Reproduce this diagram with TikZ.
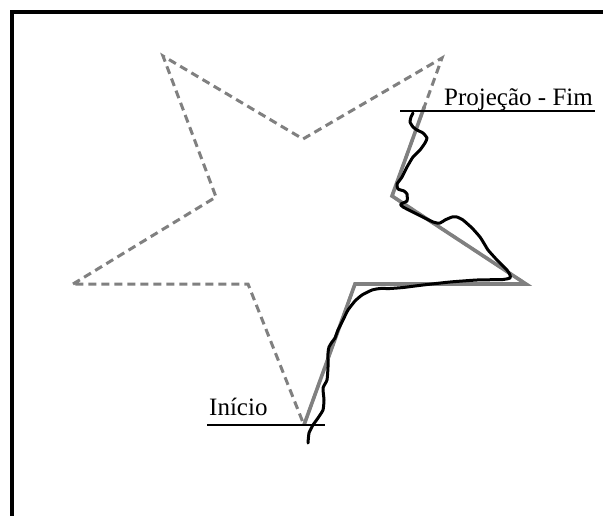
\documentclass[tikz,border=0pt]{standalone}
\usepackage{fontspec}
\setmainfont{Liberation Serif}
\usetikzlibrary{calc}

\begin{document}
\begin{tikzpicture}[x=1pt,y=-1pt]
% Stili
\tikzstyle{estrela} = [
    draw=gray,
    line width=3pt,
    dash pattern=on 8pt off 5pt
]

\tikzstyle{projecao} = [
    draw=gray,
    line width=3.6pt,
    line join=miter
]

\tikzstyle{trajeto} = [
    draw=black,
    line width=3pt,
    line join=round,
    line cap=round
]

\tikzstyle{rotulo} = [
    anchor=base west,
    inner sep=0pt,
    font=\fontsize{25}{30}\selectfont
]

\tikzstyle{sublinha} = [
    draw=black,
    line width=1.4pt
]

\useasboundingbox (0,0) rectangle (603,515);
\fill[white] (0,0) rectangle (603,515);

% Moldura
\draw[line width=4pt] (11.5,530) -- (11.5,11.5) -- (620,11.5);

% Vertici della stella
\coordinate (p1) at (163,56);
\coordinate (v1) at (303,139);
\coordinate (p2) at (442,58);
\coordinate (v2) at (392,196);
\coordinate (p3) at (526,284);
\coordinate (v3) at (355,284);
\coordinate (p4) at (304,425);
\coordinate (v4) at (248,284);
\coordinate (p5) at (73,284);
\coordinate (v5) at (216,197);
\coordinate (fimproj) at ($(v2)!0.65!(p2)$);

% Stella tratteggiata
\draw[estrela] (p5) -- (v5) -- (p1) -- (v1) -- (p2) -- (v2) -- (p3)
    -- (v3) -- (p4) -- (v4) -- cycle;

% Proiezione
\draw[projecao] (p4) -- (v3) -- (p3) -- (v2) -- (fimproj);

% Percorso
\draw[trajeto] plot[smooth, tension=0.3] coordinates {
    (308,443) (309,433) (313,425) (318,418) (323,410) (324,400)
    (323,388) (327,380) (328,367) (328,353) (329,347) (332,342)
    (335,338) (338,330) (343,320) (348,310) (355,301) (362,295)
    (372,290) (380,288.5) (390,288.5) (403,287.5) (423,285)
    (450,282) (477,280) (503,279.5) (510,278) (510,275) (507,270)
    (497,260) (488,250) (485,245) (480,237) (472,228) (463,220)
    (457,217) (452,217) (445,220) (440,223) (433,222) (403,207)
    (401,204) (407,201) (407,194) (404,191) (398,189) (397,184)
    (402,177) (407,167) (413,157) (420,150) (425,143) (427,138)
    (423,133) (417,130) (413,127) (410,122) (411,117) (413,113)
};

% Etichette
\node[rotulo] (fim) at (444,105) {Projeção - Fim};
\node[rotulo] (inicio) at (209,415) {Início};

\coordinate (a1) at (400,111);
\coordinate (a2) at (595,111);
\coordinate (b1) at (207,425);
\coordinate (b2) at (325,425);

\draw[sublinha] (a1) -- (a2);
\draw[sublinha] (b1) -- (b2);

\end{tikzpicture}
\end{document}
